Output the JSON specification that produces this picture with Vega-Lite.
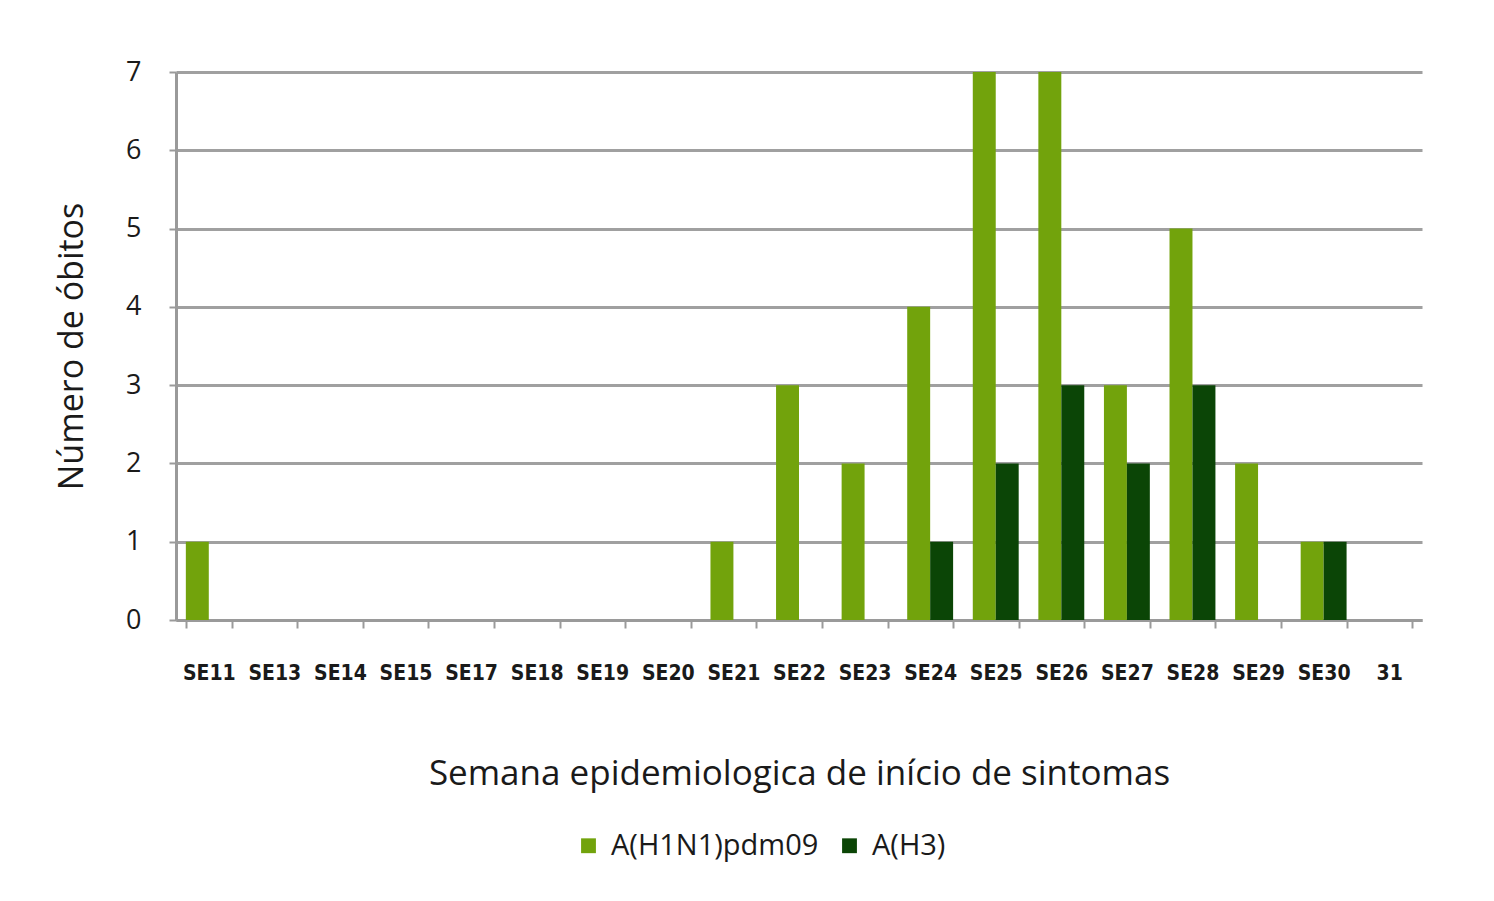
{
  "$schema": "https://vega.github.io/schema/vega-lite/v6.json",
  "width": 1246,
  "height": 548,
  "autosize": {"type": "none"},
  "padding": {"left": 176, "top": 72, "right": 72, "bottom": 281},
  "background": "white",
  "data": {
    "values": [
      {"semana": "SE11", "tipo": "A(H1N1)pdm09", "obitos": 1},
      {"semana": "SE11", "tipo": "A(H3)", "obitos": 0},
      {"semana": "SE13", "tipo": "A(H1N1)pdm09", "obitos": 0},
      {"semana": "SE13", "tipo": "A(H3)", "obitos": 0},
      {"semana": "SE14", "tipo": "A(H1N1)pdm09", "obitos": 0},
      {"semana": "SE14", "tipo": "A(H3)", "obitos": 0},
      {"semana": "SE15", "tipo": "A(H1N1)pdm09", "obitos": 0},
      {"semana": "SE15", "tipo": "A(H3)", "obitos": 0},
      {"semana": "SE17", "tipo": "A(H1N1)pdm09", "obitos": 0},
      {"semana": "SE17", "tipo": "A(H3)", "obitos": 0},
      {"semana": "SE18", "tipo": "A(H1N1)pdm09", "obitos": 0},
      {"semana": "SE18", "tipo": "A(H3)", "obitos": 0},
      {"semana": "SE19", "tipo": "A(H1N1)pdm09", "obitos": 0},
      {"semana": "SE19", "tipo": "A(H3)", "obitos": 0},
      {"semana": "SE20", "tipo": "A(H1N1)pdm09", "obitos": 0},
      {"semana": "SE20", "tipo": "A(H3)", "obitos": 0},
      {"semana": "SE21", "tipo": "A(H1N1)pdm09", "obitos": 1},
      {"semana": "SE21", "tipo": "A(H3)", "obitos": 0},
      {"semana": "SE22", "tipo": "A(H1N1)pdm09", "obitos": 3},
      {"semana": "SE22", "tipo": "A(H3)", "obitos": 0},
      {"semana": "SE23", "tipo": "A(H1N1)pdm09", "obitos": 2},
      {"semana": "SE23", "tipo": "A(H3)", "obitos": 0},
      {"semana": "SE24", "tipo": "A(H1N1)pdm09", "obitos": 4},
      {"semana": "SE24", "tipo": "A(H3)", "obitos": 1},
      {"semana": "SE25", "tipo": "A(H1N1)pdm09", "obitos": 7},
      {"semana": "SE25", "tipo": "A(H3)", "obitos": 2},
      {"semana": "SE26", "tipo": "A(H1N1)pdm09", "obitos": 7},
      {"semana": "SE26", "tipo": "A(H3)", "obitos": 3},
      {"semana": "SE27", "tipo": "A(H1N1)pdm09", "obitos": 3},
      {"semana": "SE27", "tipo": "A(H3)", "obitos": 2},
      {"semana": "SE28", "tipo": "A(H1N1)pdm09", "obitos": 5},
      {"semana": "SE28", "tipo": "A(H3)", "obitos": 3},
      {"semana": "SE29", "tipo": "A(H1N1)pdm09", "obitos": 2},
      {"semana": "SE29", "tipo": "A(H3)", "obitos": 0},
      {"semana": "SE30", "tipo": "A(H1N1)pdm09", "obitos": 1},
      {"semana": "SE30", "tipo": "A(H3)", "obitos": 1},
      {"semana": "31", "tipo": "A(H1N1)pdm09", "obitos": 0},
      {"semana": "31", "tipo": "A(H3)", "obitos": 0}
    ]
  },
  "mark": {"type": "bar", "stroke": null},
  "encoding": {
    "x": {
      "field": "semana",
      "type": "nominal",
      "sort": null,
      "scale": {"paddingInner": 0.3, "paddingOuter": 0.15},
      "axis": {
        "title": "Semana epidemiologica de início de sintomas",
        "titleFont": "Open Sans",
        "titleFontSize": 35,
        "titleFontWeight": "normal",
        "titleColor": "#1a1a1a",
        "titlePadding": 73,
        "labelAngle": 0,
        "labelFont": "DejaVu Sans Condensed",
        "labelFontSize": 21,
        "labelFontWeight": "bold",
        "labelColor": "#1a1a1a",
        "labelPadding": 34,
        "tickBand": "extent",
        "tickSize": 8,
        "tickColor": "#9a9a9a",
        "tickWidth": 2,
        "domainColor": "#9a9a9a",
        "domainWidth": 3,
        "grid": false
      }
    },
    "xOffset": {"field": "tipo", "type": "nominal", "sort": ["A(H1N1)pdm09", "A(H3)"]},
    "y": {
      "field": "obitos",
      "type": "quantitative",
      "scale": {"domain": [0, 7], "nice": false},
      "axis": {
        "title": "Número de óbitos",
        "titleFont": "Open Sans",
        "titleFontSize": 34,
        "titleFontWeight": "normal",
        "titleColor": "#1a1a1a",
        "titlePadding": 36,
        "values": [0, 1, 2, 3, 4, 5, 6, 7],
        "format": "d",
        "labelFont": "Open Sans",
        "labelFontSize": 27,
        "labelColor": "#1a1a1a",
        "labelPadding": 28,
        "tickSize": 7,
        "tickColor": "#9a9a9a",
        "tickWidth": 2,
        "domainColor": "#9a9a9a",
        "domainWidth": 3,
        "grid": true,
        "gridColor": "#a0a0a0",
        "gridWidth": 3
      }
    },
    "color": {
      "field": "tipo",
      "type": "nominal",
      "sort": ["A(H1N1)pdm09", "A(H3)"],
      "scale": {"domain": ["A(H1N1)pdm09", "A(H3)"], "range": ["#72a30c", "#0b4506"]},
      "legend": {
        "title": null,
        "orient": "none",
        "legendX": 398,
        "legendY": 759,
        "direction": "horizontal",
        "symbolType": "square",
        "symbolSize": 220,
        "symbolStrokeWidth": 0,
        "labelFont": "Open Sans",
        "labelFontSize": 29,
        "labelLimit": 400,
        "labelColor": "#1a1a1a",
        "columnPadding": 16,
        "labelOffset": 8
      }
    }
  },
  "config": {"view": {"stroke": null}}
}
